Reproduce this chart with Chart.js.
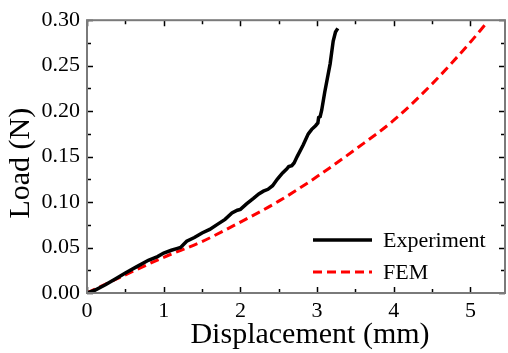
<!DOCTYPE html>
<html>
<head>
<meta charset="utf-8">
<script src="https://cdn.jsdelivr.net/npm/chart.js@4/dist/chart.umd.min.js"></script>
<style>
  html, body { margin: 0; padding: 0; background: #fff; }
  #wrap { width: 508px; height: 353px; }
</style>
</head>
<body>
<div id="wrap"><canvas id="chart" width="508" height="353"></canvas></div>
<script>
// data
const expX = [0, 0.1, 0.24, 0.38, 0.5, 0.65, 0.8, 0.92, 1.0, 1.1, 1.18, 1.22, 1.3, 1.4, 1.5, 1.6, 1.71, 1.8, 1.89, 1.96, 2.0, 2.08, 2.17, 2.24, 2.3, 2.36, 2.42, 2.48, 2.55, 2.6, 2.63, 2.67, 2.7, 2.74, 2.82, 2.885, 2.93, 2.98, 3.01, 3.02, 3.04, 3.06, 3.1, 3.17, 3.21, 3.24, 3.27];
const expY = [0, 0.003, 0.009, 0.016, 0.022, 0.029, 0.036, 0.040, 0.044, 0.047, 0.049, 0.050, 0.057, 0.061, 0.066, 0.070, 0.076, 0.081, 0.088, 0.091, 0.092, 0.098, 0.104, 0.109, 0.112, 0.114, 0.118, 0.125, 0.132, 0.136, 0.139, 0.140, 0.143, 0.150, 0.163, 0.175, 0.180, 0.184, 0.187, 0.193, 0.194, 0.201, 0.221, 0.252, 0.277, 0.287, 0.291];

const femX = [0, 0.5, 1.0, 1.5, 2.0, 2.5, 3.0, 3.5, 4.0, 4.5, 5.0, 5.2];
const femY = [0, 0.0199, 0.0393, 0.0566, 0.078, 0.101, 0.128, 0.158, 0.190, 0.230, 0.276, 0.296];

const seriesLabels = ["Experiment", "FEM"];
const xTitle = "Displacement (mm)";
const yTitle = "Load (N)";
const xRange = [0, 5.45];
const yRange = [0, 0.30];
const xStep = 1, xMinor = 0.5;
const yStep = 0.05, yMinor = 0.025;

const pts = (xs, ys) => xs.map((x, i) => ({ x, y: ys[i] }));
const SERIF = "'Liberation Serif', 'DejaVu Serif', serif";

// frame, inward ticks on all sides, axis titles, legend
const framePlugin = {
  id: "frame",
  afterDatasetsDraw(chart) {
    const { ctx, chartArea: a, scales } = chart;
    const sx = scales.x, sy = scales.y;
    ctx.save();
    ctx.strokeStyle = "#000";
    ctx.lineWidth = 1.5;
    const tickX = (v, len) => {
      const p = Math.round(sx.getPixelForValue(v)) + 0.5;
      ctx.beginPath();
      ctx.moveTo(p, a.bottom); ctx.lineTo(p, a.bottom - len);
      ctx.moveTo(p, a.top); ctx.lineTo(p, a.top + len);
      ctx.stroke();
    };
    const tickY = (v, len) => {
      const p = Math.round(sy.getPixelForValue(v)) + 0.5;
      ctx.beginPath();
      ctx.moveTo(a.left, p); ctx.lineTo(a.left + len, p);
      ctx.moveTo(a.right, p); ctx.lineTo(a.right - len, p);
      ctx.stroke();
    };
    for (let v = xRange[0]; v <= xRange[1] + 1e-9; v += xMinor) {
      const major = Math.abs(v / xStep - Math.round(v / xStep)) < 1e-6;
      tickX(v, major ? 6 : 4);
    }
    for (let i = 0; i * yMinor <= yRange[1] + 1e-9; i++) {
      tickY(i * yMinor, i % 2 === 0 ? 6 : 4);
    }
    ctx.strokeStyle = "#7a7a7a";
    ctx.lineWidth = 2;
    ctx.strokeRect(a.left, a.top, a.right - a.left, a.bottom - a.top);

    // axis titles
    ctx.fillStyle = "#000";
    ctx.font = "30px " + SERIF;
    ctx.textAlign = "center";
    ctx.textBaseline = "middle";
    ctx.fillText(xTitle, a.left + 223, a.bottom + 42);
    ctx.save();
    ctx.translate(21, a.top + 143);
    ctx.rotate(-Math.PI / 2);
    ctx.fillText(yTitle, 0, 0);
    ctx.restore();

    // legend
    ctx.font = "22px " + SERIF;
    ctx.textAlign = "left";
    const rows = [a.bottom - 53, a.bottom - 21];
    chart.data.datasets.forEach((ds, i) => {
      const y = rows[i];
      ctx.beginPath();
      ctx.strokeStyle = ds.borderColor;
      ctx.lineWidth = ds.borderWidth;
      ctx.setLineDash(ds.borderDash || []);
      ctx.moveTo(a.right - 192, y);
      ctx.lineTo(a.right - 133, y);
      ctx.stroke();
      ctx.setLineDash([]);
      ctx.fillText(ds.label, a.right - 122, y + 1);
    });
    ctx.restore();
  },
};

new Chart(document.getElementById("chart"), {
  type: "line",
  data: {
    datasets: [
      {
        label: seriesLabels[0],
        data: pts(expX, expY),
        borderColor: "#000",
        borderWidth: 3.5,
        pointRadius: 0,
        tension: 0,
      },
      {
        label: seriesLabels[1],
        data: pts(femX, femY),
        borderColor: "#ff0000",
        borderWidth: 3,
        borderDash: [9, 5],
        pointRadius: 0,
        cubicInterpolationMode: "monotone",
      },
    ],
  },
  options: {
    animation: false,
    responsive: false,
    layout: { padding: { left: 0, top: 20, right: 3, bottom: 0 } },
    plugins: { legend: { display: false }, tooltip: { enabled: false } },
    scales: {
      x: {
        type: "linear",
        min: xRange[0],
        max: xRange[1],
        grid: { display: false, drawTicks: false, tickLength: 0 },
        border: { display: false },
        ticks: {
          stepSize: xStep,
          includeBounds: false,
          autoSkip: false,
          maxRotation: 0,
          padding: 5,
          color: "#000",
          font: { family: SERIF, size: 22 },
        },
        afterFit: (s) => { s.height = 60; },
      },
      y: {
        min: yRange[0],
        max: yRange[1],
        grid: { display: false, drawTicks: false, tickLength: 0 },
        border: { display: false },
        ticks: {
          stepSize: yStep,
          autoSkip: false,
          padding: 7,
          color: "#000",
          font: { family: SERIF, size: 22 },
          callback: (v) => Number(v).toFixed(2),
        },
        afterFit: (s) => { s.width = 87; },
      },
    },
  },
  plugins: [framePlugin],
});
</script>
</body>
</html>
